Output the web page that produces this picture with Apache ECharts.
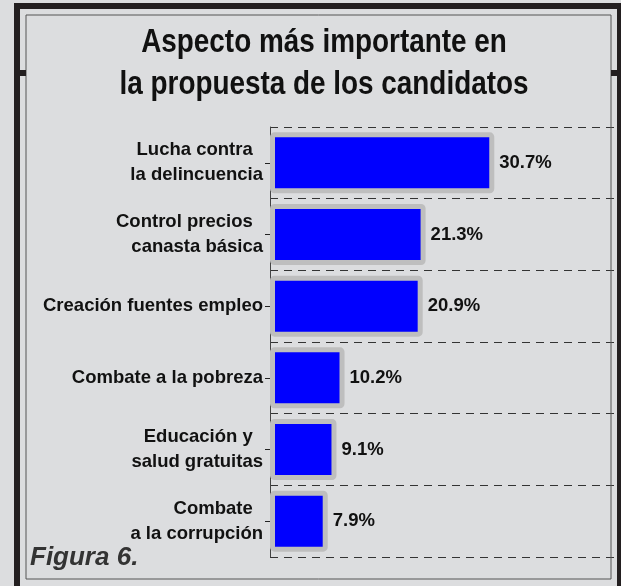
<!DOCTYPE html>
<html>
<head>
<meta charset="utf-8">
<script src="https://cdn.jsdelivr.net/npm/echarts@6/dist/echarts.min.js"></script>
<style>
  html, body { margin: 0; padding: 0; background: #dcdddf; }
  #chart { width: 621px; height: 586px; }
</style>
</head>
<body>
<div id="chart"></div>
<script>
// datos
var categorias = [
  'Lucha contra  \nla delincuencia',
  'Control precios  \ncanasta básica',
  'Creación fuentes empleo',
  'Combate a la pobreza',
  'Educación y  \nsalud gratuitas',
  'Combate  \na la corrupción'
];
var porcentajes = [30.7, 21.3, 20.9, 10.2, 9.1, 7.9];
var titulo = ['Aspecto más importante en', 'la propuesta de los candidatos'];

var fuente = "'Liberation Sans', Arial, sans-serif";
var chart = echarts.init(document.getElementById('chart'));

var option = {
  backgroundColor: '#dcdddf',
  animation: false,
  grid: { left: 270, right: 4, top: 127, bottom: 29 },
  xAxis: {
    type: 'value',
    min: 0,
    max: 47.5,
    show: false
  },
  yAxis: [
    {
      type: 'category',
      inverse: true,
      data: categorias,
      axisLine: { show: true, lineStyle: { color: '#444', width: 1 } },
      axisTick: { show: true, alignWithLabel: true, length: 5, lineStyle: { color: '#222' } },
      splitLine: { show: true, lineStyle: { color: '#333', width: 1.2, type: [8, 6] } },
      axisLabel: {
        margin: 7,
        fontFamily: fuente,
        fontWeight: 'bold',
        fontSize: 18.5,
        lineHeight: 25,
        color: '#111',
        align: 'right'
      }
    },
    {
      // solo para la parte interior de las marcas
      type: 'category',
      inverse: true,
      position: 'left',
      data: categorias,
      axisLine: { show: false },
      axisTick: { show: true, inside: true, alignWithLabel: true, length: 5, lineStyle: { color: '#222' } },
      axisLabel: { show: false },
      splitLine: { show: false }
    }
  ],
  series: [
    {
      type: 'bar',
      data: porcentajes,
      barWidth: 61,
      itemStyle: {
        color: '#0000ff',
        borderColor: '#bebebe',
        borderWidth: 5,
        borderRadius: 2
      },
      label: {
        show: true,
        position: 'right',
        distance: 5,
        formatter: '{c}%',
        fontFamily: fuente,
        fontWeight: 'bold',
        fontSize: 18.5,
        color: '#111'
      }
    }
  ],
  graphic: [
    { type: 'rect', shape: { x: 26, y: 15, width: 585, height: 564 }, style: { fill: null, stroke: '#555', lineWidth: 1 }, z: 100 },
    { type: 'rect', shape: { x: 14, y: 3, width: 607, height: 6 }, style: { fill: '#231f20' }, z: 100 },
    { type: 'rect', shape: { x: 14, y: 3, width: 6, height: 583 }, style: { fill: '#231f20' }, z: 100 },
    { type: 'rect', shape: { x: 617, y: 3, width: 4, height: 583 }, style: { fill: '#231f20' }, z: 100 },
    { type: 'rect', shape: { x: 14, y: 70, width: 12, height: 6 }, style: { fill: '#231f20' }, z: 100 },
    { type: 'rect', shape: { x: 611, y: 70, width: 10, height: 6 }, style: { fill: '#231f20' }, z: 100 },
    // titulo en letra condensada
    {
      type: 'text', x: 324, y: 43, scaleX: 0.82, z: 100,
      style: { text: titulo[0], font: 'bold 34px ' + fuente, fill: '#111', align: 'center', verticalAlign: 'middle' }
    },
    {
      type: 'text', x: 324, y: 85, scaleX: 0.82, z: 100,
      style: { text: titulo[1], font: 'bold 34px ' + fuente, fill: '#111', align: 'center', verticalAlign: 'middle' }
    },
    {
      type: 'text', x: 30, y: 558, z: 100,
      style: { text: 'Figura 6.', font: 'italic bold 26px ' + fuente, fill: '#333', align: 'left', verticalAlign: 'middle' }
    }
  ]
};

chart.setOption(option);
window.addEventListener('resize', function () {
  chart.resize();
});
</script>
</body>
</html>
